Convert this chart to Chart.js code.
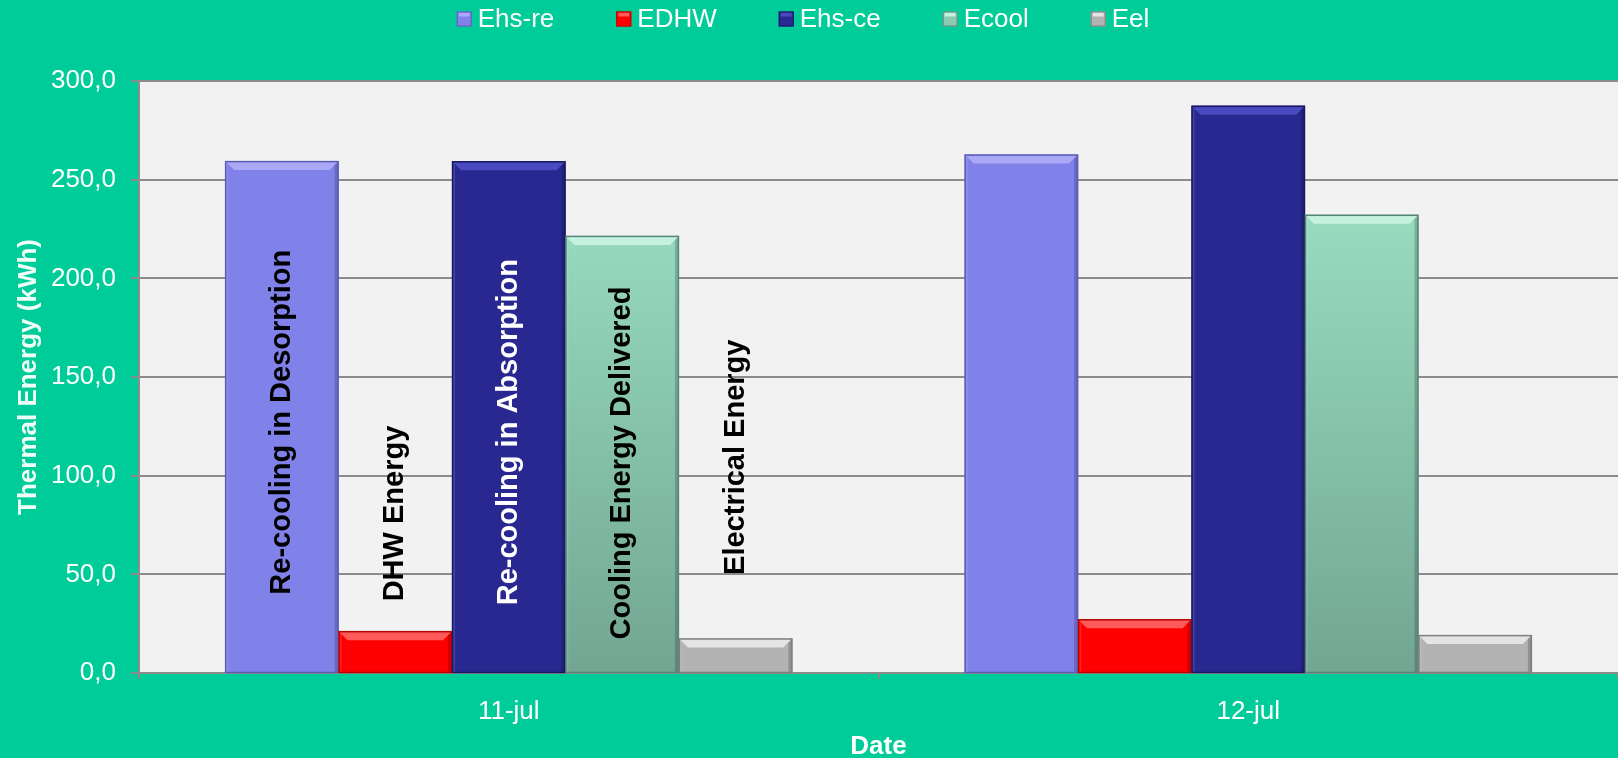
<!DOCTYPE html>
<html>
<head>
<meta charset="utf-8">
<script src="https://cdn.jsdelivr.net/npm/chart.js@4.4.1/dist/chart.umd.min.js"></script>
<style>
html, body { margin: 0; padding: 0; background: #00CC99; }
#wrap { width: 1618px; height: 758px; }
</style>
</head>
<body>
<div id="wrap"><canvas id="energyChart"></canvas></div>
<script>
const dates = ["11-jul", "12-jul"];
const seriesNames = ["Ehs-re", "EDHW", "Ehs-ce", "Ecool", "Eel"];
const ehsRe = [259.4, 262.7];
const edhw = [21.2, 27.2];
const ehsCe = [259.3, 287.4];
const ecool = [221.5, 232.2];
const eel = [17.5, 19.2];
const yTicks = [0, 50, 100, 150, 200, 250, 300];
const barNotes = ["Re-cooling in Desorption", "DHW Energy", "Re-cooling in Absorption", "Cooling Energy Delivered", "Electrical Energy"];

const FONT = "'Liberation Sans', Arial, sans-serif";

// fill, top bevel, dark edge
const palette = [
    { fill: "#8181EA", top: "#A9A9F6", edge: "#5C5CB6", note: "#000000" },
    { fill: "#FF0000", top: "#FF5A5A", edge: "#B80000", note: "#000000" },
    { fill: "#282890", top: "#4A4AC0", edge: "#181860", note: "#FFFFFF" },
    { fill: "#8BCBB1", top: "#C4F2DE", edge: "#55857A", note: "#000000" },
    { fill: "#B3B3B3", top: "#E4E4E4", edge: "#7E7E7E", note: "#000000" }
];
// bottom of each rotated note, in axis units
const noteAnchor = [39.7, 36.3, 34.3, 17.0, 49.7];

function coolGradient(context) {
    const chart = context.chart;
    const area = chart.chartArea;
    if (!area) return palette[3].fill;
    const y = chart.scales.y;
    const g = chart.ctx.createLinearGradient(0, y.getPixelForValue(235), 0, y.getPixelForValue(0));
    g.addColorStop(0, "#98DCC0");
    g.addColorStop(1, "#72A692");
    return g;
}

const plotBackground = {
    id: "plotBackground",
    beforeDraw(chart) {
        const { ctx, chartArea: a } = chart;
        ctx.save();
        ctx.fillStyle = "#00CC99";
        ctx.fillRect(0, 0, chart.width, chart.height);
        ctx.fillStyle = "#F2F2F2";
        ctx.fillRect(a.left, a.top, a.right - a.left, a.bottom - a.top);
        ctx.restore();
    }
};

const bevel = {
    id: "bevel",
    afterDatasetsDraw(chart) {
        const ctx = chart.ctx;
        chart.data.datasets.forEach((ds, i) => {
            const p = palette[i];
            chart.getDatasetMeta(i).data.forEach(bar => {
                const { x, y, base, width } = bar.getProps(["x", "y", "base", "width"], true);
                const l = x - width / 2, r = x + width / 2;
                const b = Math.min(9, (base - y) / 2);
                ctx.save();
                // right side shade
                ctx.fillStyle = "rgba(0,0,0,0.18)";
                ctx.fillRect(r - 4, y, 4, base - y);
                ctx.fillStyle = "rgba(255,255,255,0.12)";
                ctx.fillRect(l, y, 3, base - y);
                // top bevel
                ctx.beginPath();
                ctx.moveTo(l, y);
                ctx.lineTo(r, y);
                ctx.lineTo(r - b, y + b);
                ctx.lineTo(l + b, y + b);
                ctx.closePath();
                ctx.fillStyle = p.top;
                ctx.fill();
                ctx.strokeStyle = p.edge;
                ctx.lineWidth = 1.5;
                ctx.strokeRect(l + 0.5, y + 0.5, width - 1, base - y);
                ctx.restore();
            });
        });
    }
};

const notes = {
    id: "notes",
    afterDatasetsDraw(chart) {
        const ctx = chart.ctx;
        const yScale = chart.scales.y;
        ctx.save();
        ctx.font = "bold 29px " + FONT;
        ctx.textAlign = "left";
        ctx.textBaseline = "middle";
        barNotes.forEach((text, i) => {
            const bar = chart.getDatasetMeta(i).data[0];
            ctx.save();
            ctx.translate(bar.x, yScale.getPixelForValue(noteAnchor[i]));
            ctx.rotate(-Math.PI / 2);
            ctx.fillStyle = palette[i].note;
            ctx.fillText(text, 0, 0);
            ctx.restore();
        });
        ctx.restore();
    }
};

const topLegend = {
    id: "topLegend",
    afterDraw(chart) {
        const ctx = chart.ctx;
        ctx.save();
        ctx.font = "26px " + FONT;
        ctx.textBaseline = "middle";
        const box = 15, gap = 6, spacing = 62, cy = 19;
        const widths = seriesNames.map(n => ctx.measureText(n).width);
        const total = widths.reduce((s, w) => s + box + gap + w, 0) + spacing * (seriesNames.length - 1);
        let x = 803 - total / 2;
        seriesNames.forEach((name, i) => {
            const p = palette[i];
            ctx.fillStyle = p.fill;
            ctx.fillRect(x, cy - box / 2, box, box);
            ctx.fillStyle = p.top;
            ctx.fillRect(x + 2, cy - box / 2 + 1, box - 4, 4);
            ctx.strokeStyle = p.edge;
            ctx.lineWidth = 1;
            ctx.strokeRect(x + 0.5, cy - box / 2 + 0.5, box - 1, box - 1);
            x += box + gap;
            ctx.fillStyle = "#FFFFFF";
            ctx.fillText(name, x, cy + 1);
            x += widths[i] + spacing;
        });
        ctx.restore();
    }
};

const series = [ehsRe, edhw, ehsCe, ecool, eel];

new Chart(document.getElementById("energyChart"), {
    type: "bar",
    data: {
        labels: dates,
        datasets: seriesNames.map((name, i) => ({
            label: name,
            data: series[i],
            backgroundColor: i === 3 ? coolGradient : palette[i].fill,
            borderWidth: 0,
            categoryPercentage: 0.767,
            barPercentage: 1.0
        }))
    },
    options: {
        responsive: true,
        maintainAspectRatio: false,
        animation: false,
        layout: { padding: { top: 81, left: 0, right: 0, bottom: 0 } },
        plugins: {
            legend: { display: false },
            tooltip: { enabled: false }
        },
        scales: {
            x: {
                afterFit: scale => { scale.height = 85; },
                grid: {
                    display: true,
                    drawOnChartArea: false,
                    drawTicks: true,
                    tickLength: 6,
                    color: "#8C8C8C",
                    lineWidth: 2
                },
                border: { color: "#8C8C8C", width: 2 },
                ticks: {
                    color: "#FFFFFF",
                    padding: 17,
                    font: { family: FONT, size: 26 }
                },
                title: {
                    display: true,
                    text: "Date",
                    color: "#FFFFFF",
                    padding: { top: 0, bottom: -2 },
                    font: { family: FONT, size: 26, weight: "bold", lineHeight: 1 }
                }
            },
            y: {
                min: 0,
                max: 300,
                afterFit: scale => { scale.width = 139; },
                afterBuildTicks: axis => { axis.ticks = yTicks.map(v => ({ value: v })); },
                grid: {
                    color: "#8C8C8C",
                    lineWidth: 2,
                    tickLength: 8
                },
                border: { color: "#8C8C8C", width: 2 },
                ticks: {
                    color: "#FFFFFF",
                    padding: 15,
                    font: { family: FONT, size: 26 },
                    callback: v => v.toFixed(1).replace(".", ",")
                },
                title: {
                    display: true,
                    text: "Thermal Energy (kWh)",
                    color: "#EFFFF8",
                    padding: { top: 16, bottom: 9 },
                    font: { family: FONT, size: 26, weight: "bold", lineHeight: 1 }
                }
            }
        }
    },
    plugins: [plotBackground, bevel, notes, topLegend]
});
</script>
</body>
</html>
